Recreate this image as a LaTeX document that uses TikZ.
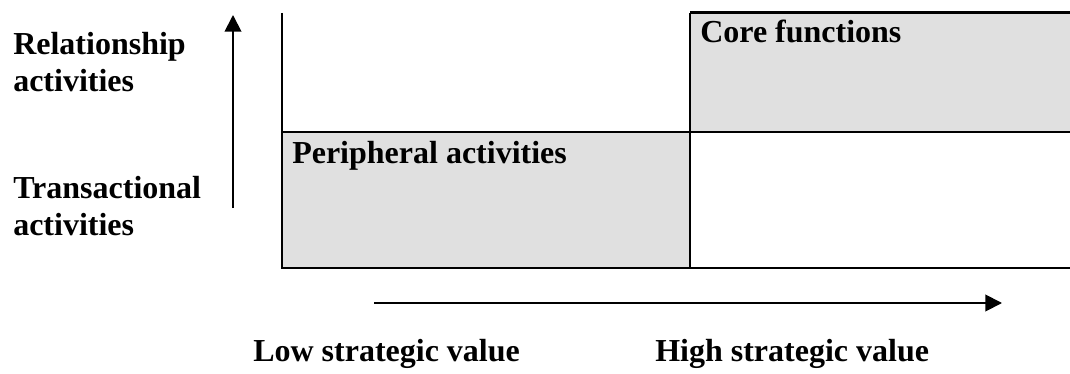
\documentclass[tikz,border=0pt]{standalone}
\usepackage{fontspec}
\setmainfont{Liberation Serif}
\usetikzlibrary{arrows.meta}
\definecolor{cellgray}{RGB}{224,224,224}
\begin{document}
\begin{tikzpicture}[x=0.75pt,y=-0.75pt,
  grid/.style={line width=2pt,black},
  axis/.style={line width=1.4pt,black,-{Triangle[length=12.5pt,width=12.5pt]}},
  lbl/.style={anchor=base west,inner sep=0pt,align=left,
    font=\fontsize{24}{27.75}\selectfont\bfseries}]
\useasboundingbox (0,0) rectangle (1070,374);
\begin{scope}
\clip (0,0) rectangle (1070,374);
% shaded quadrants
\fill[cellgray] (282,132) rectangle (690,268);
\fill[cellgray] (690,12.7) rectangle (1075,132);
% quadrant grid
\draw[grid] (282,13) -- (282,268) -- (1075,268);
\draw[grid] (282,132) -- (1075,132);
\draw[grid] (690,12.7) -- (690,268);
\draw[grid] (690,12.7) -- (1075,12.7);
\end{scope}
% axes
\coordinate (ybot) at (233,208);
\coordinate (ytop) at (233,15);
\coordinate (xleft) at (374,303);
\coordinate (xright) at (1002,303);
\draw[axis] (ybot) -- (ytop);
\draw[axis] (xleft) -- (xright);
% labels (two-line labels anchored on their last line)
\node[lbl] (rel) at (13,92) {Relationship\\activities};
\node[lbl] (trans) at (13,235) {Transactional\\activities};
\node[lbl] (core) at (700,43) {Core functions};
\node[lbl] (periph) at (292,163) {Peripheral activities};
\node[lbl] (low) at (253,361) {Low strategic value};
\node[lbl] (high) at (655,361) {High strategic value};
\end{tikzpicture}
\end{document}
